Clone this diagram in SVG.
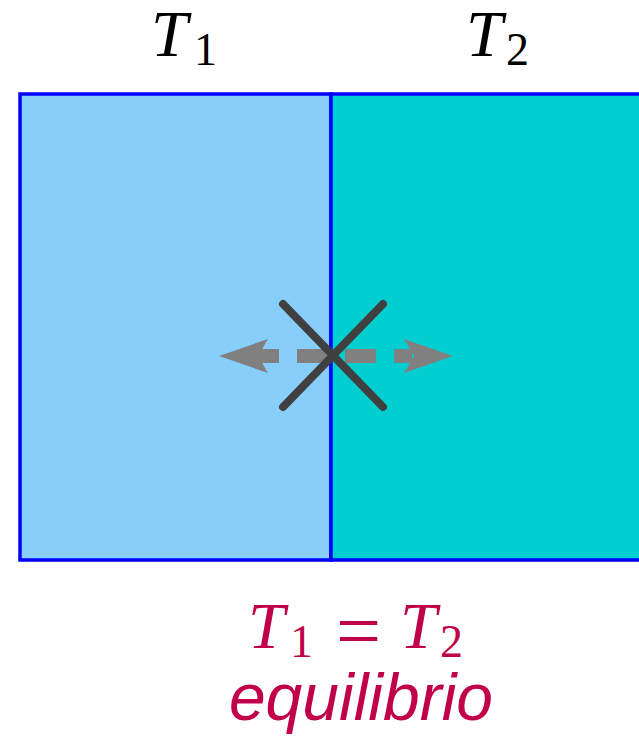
<svg xmlns="http://www.w3.org/2000/svg" width="639" height="739" viewBox="0 0 639 739">
<style>
.math{font-family:"Liberation Serif","DejaVu Serif",serif;font-style:italic;}
.num{font-family:"Liberation Serif","DejaVu Serif",serif;font-style:normal;}
.lbl{fill:#000;}
.eq{fill:#C1004A;}
.arrow{fill:#808080;}
.cross{stroke:#404040;stroke-width:8;stroke-linecap:round;fill:none;}
</style>
<g id="left-box"><rect x="20" y="94" width="311" height="466" fill="#87CEFA" stroke="#0000FF" stroke-width="3.5"/></g>
<g id="right-box"><rect x="331" y="94" width="320" height="466" fill="#00CED1" stroke="#0000FF" stroke-width="3.5"/></g>
<g id="label-T1" class="lbl"><text x="151" y="56" class="math" font-size="66">T</text><text x="194" y="65" class="num" font-size="46">1</text></g>
<g id="label-T2" class="lbl"><text x="466" y="56" class="math" font-size="66">T</text><text x="506" y="65" class="num" font-size="46">2</text></g>
<g id="connectors">
<g class="arrow">
<rect x="257" y="349" width="22" height="14"/>
<rect x="297" y="349" width="30" height="14"/>
<polygon points="219,356 268,339 258,356 268,373"/>
<rect x="345" y="349" width="31" height="14"/>
<rect x="394" y="349" width="18" height="14"/>
<polygon points="453,356 404,339 414,356 404,373"/>
</g>
<line class="cross" x1="283" y1="304" x2="383" y2="407"/>
<line class="cross" x1="383" y1="304" x2="283" y2="407"/>
</g>
<g id="caption" class="eq">
<text x="248" y="648" class="math" font-size="66">T</text><text x="290" y="657" class="num" font-size="46">1</text>
<text x="336" y="658" class="num" font-size="80">=</text>
<text x="400" y="648" class="math" font-size="66">T</text><text x="440" y="657" class="num" font-size="46">2</text>
<text x="361" y="720" text-anchor="middle" font-family="Liberation Sans, Arial, sans-serif" font-style="italic" font-size="66">equilibrio</text>
</g>
</svg>
